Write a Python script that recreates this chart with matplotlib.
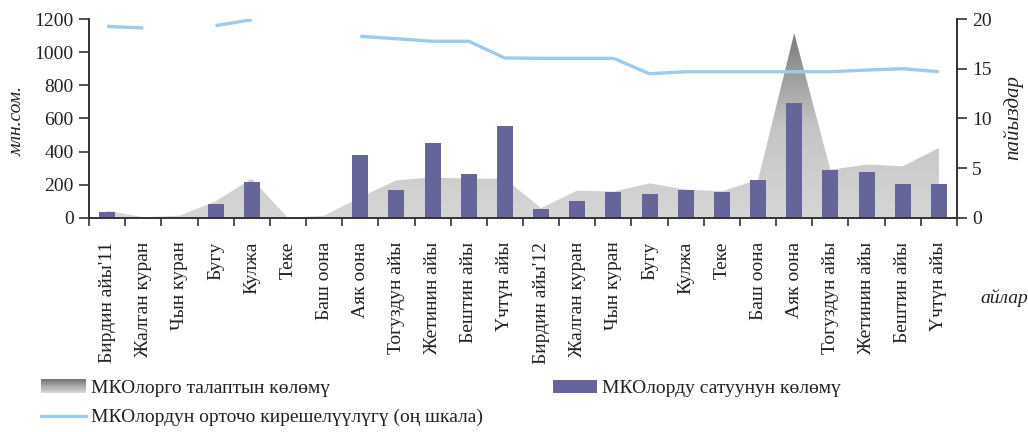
import numpy as np
import matplotlib
matplotlib.use("Agg")
import matplotlib.pyplot as plt
from matplotlib.patches import Rectangle
from matplotlib.lines import Line2D
from matplotlib.legend_handler import HandlerBase
from matplotlib.colors import LinearSegmentedColormap

plt.rcParams['font.family'] = ['Liberation Serif', 'DejaVu Serif']

months = ["Бирдин айы'11", "Жалган куран", "Чын куран", "Бугу", "Кулжа", "Теке",
          "Баш оона", "Аяк оона", "Тогуздун айы", "Жетинин айы", "Бештин айы", "Үчтүн айы",
          "Бирдин айы'12", "Жалган куран", "Чын куран", "Бугу", "Кулжа", "Теке",
          "Баш оона", "Аяк оона", "Тогуздун айы", "Жетинин айы", "Бештин айы", "Үчтүн айы"]

demand = [45, 4, 14, 100, 237, 0, 14, 125, 227, 245, 237, 237,
          60, 165, 159, 209, 171, 161, 231, 1114, 291, 322, 312, 422]

sales = [38, 0, 0, 86, 219, 0, 0, 382, 171, 454, 267, 557,
         56, 105, 159, 147, 171, 159, 231, 695, 291, 279, 207, 207]

yield_pct = [19.26, 19.1, np.nan, 19.33, 19.93, np.nan, np.nan, 18.26, 18.02, 17.76, 17.76, 16.08,
             16.05, 16.05, 16.05, 14.5, 14.7, 14.7, 14.7, 14.7, 14.7, 14.87, 15.0, 14.7]

label_demand = "МКОлорго талаптын көлөмү"
label_sales = "МКОлорду сатуунун көлөмү"
label_yield = "МКОлордун орточо кирешелүүлүгү (оң шкала)"

bar_color = "#65659a"
line_color = "#9dcbee"
axis_color = "#333333"
text_color = "#222222"
fs = 14

fig = plt.figure(figsize=(10.28, 4.32), dpi=100)
ax = fig.add_axes([0.0866, 0.4954, 0.8443, 0.4606])
ax2 = ax.twinx()

x = np.arange(len(months))

# gradient area
cmap = LinearSegmentedColormap.from_list("g", ["#d6d6d6", "#c4c4c4", "#7a7a7a"], N=256)
poly = ax.fill_between(x, 0, demand, color="none", lw=0, zorder=1)
grad = np.linspace(0, 1, 256).reshape(-1, 1)
img = ax.imshow(grad, cmap=cmap, aspect="auto", origin="lower",
                extent=[-0.5, len(months) - 0.5, 0, 1120], zorder=1, interpolation="bilinear")
img.set_clip_path(poly.get_paths()[0], transform=ax.transData)
ax.set_ylim(0, 1200)
ax.set_xlim(-0.5, len(months) - 0.5)
ax2.set_ylim(0, 20)

ax.bar(x, sales, width=0.44, color=bar_color, zorder=2)
ax2.plot(x, yield_pct, color=line_color, lw=2.4, zorder=3, solid_capstyle="butt")

# axes styling
for a in (ax, ax2):
    a.spines['top'].set_visible(False)
    for s in ('left', 'right', 'bottom'):
        a.spines[s].set_color(axis_color)
        a.spines[s].set_linewidth(1.2)
ax.set_yticks(np.arange(0, 1201, 200))
ax2.set_yticks(np.arange(0, 21, 5))
ax.set_xticks(np.arange(-0.5, len(months), 1.0), minor=False)
ax.set_xticklabels([])
ax.set_xticks(x, minor=True)
ax.set_xticklabels(months, minor=True, rotation=90, fontsize=fs, color=text_color)
ax.tick_params(axis='x', which='major', direction='out', length=6, width=1.2, color=axis_color)
ax.tick_params(axis='x', which='minor', length=0, pad=17)
ax.tick_params(axis='y', direction='out', length=7, width=1.2, color=axis_color,
               labelsize=fs, labelcolor=text_color, pad=4)
ax2.tick_params(axis='y', direction='out', length=7, width=1.2, color=axis_color,
                labelsize=fs, labelcolor=text_color, pad=4)

fig.text(0.017, 0.72, "млн.сом.", rotation=90, style="italic", fontsize=14,
         ha="center", va="center", color=text_color)
fig.text(0.985, 0.728, "пайыздар", rotation=90, style="italic", fontsize=15,
         ha="center", va="center", color=text_color)
fig.text(0.977, 0.31, "айлар", style="italic", fontsize=14, ha="center", va="center",
         color=text_color)


class GradientHandler(HandlerBase):
    def create_artists(self, legend, orig_handle, xdescent, ydescent, width, height, fontsize, trans):
        arts = []
        n = 12
        cm = LinearSegmentedColormap.from_list("lg", ["#d8d8d8", "#7a7a7a"])
        for i in range(n):
            r = Rectangle((-xdescent, -ydescent + height * i / n), width, height / n + 0.2,
                          facecolor=cm(i / (n - 1)), edgecolor="none", transform=trans)
            arts.append(r)
        return arts


h_demand = Rectangle((0, 0), 1, 1, facecolor="#aaaaaa")
h_sales = Rectangle((0, 0), 1, 1, facecolor=bar_color)
h_yield = Line2D([0], [0], color=line_color, lw=2.4)

leg = fig.legend([h_demand, h_yield, h_sales], [label_demand, label_yield, label_sales],
                 ncol=2, loc="upper left", bbox_to_anchor=(0.023, 0.162), frameon=False,
                 fontsize=fs, handlelength=2.3, handleheight=0.7, handletextpad=0.25,
                 columnspacing=3.6, labelspacing=0.6,
                 handler_map={h_demand: GradientHandler()})
for t in leg.get_texts():
    t.set_color(text_color)

fig.savefig("out.png", dpi=100)
